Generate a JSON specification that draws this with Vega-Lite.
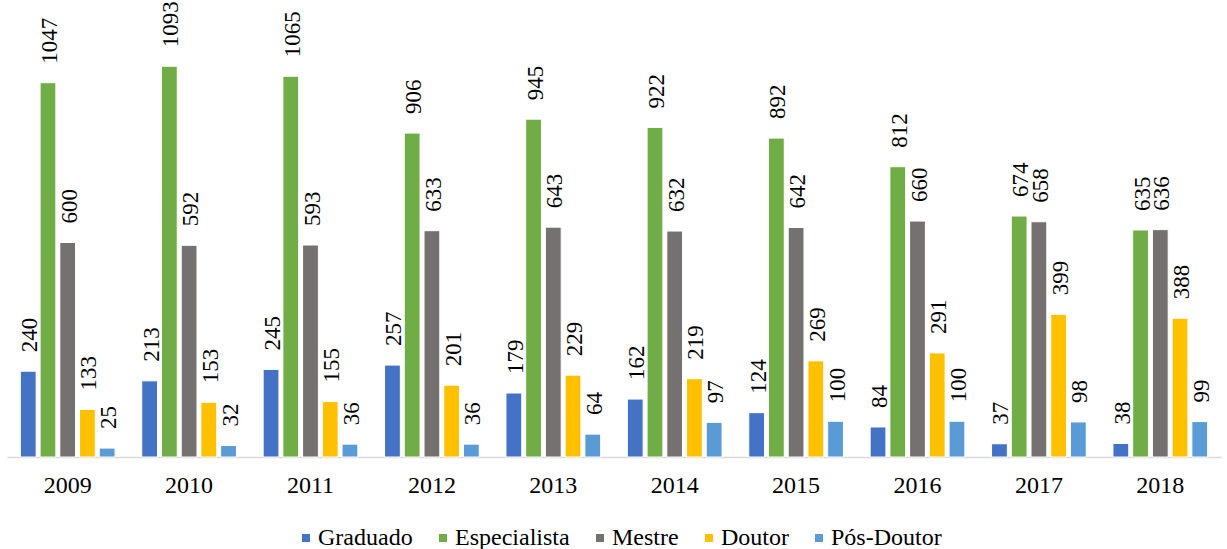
{
  "$schema": "https://vega.github.io/schema/vega-lite/v6.json",
  "width": 1214,
  "height": 429,
  "autosize": {"type": "none"},
  "padding": {"left": 7, "top": 28, "right": 6, "bottom": 92},
  "background": "white",
  "config": {"view": {"stroke": null}, "font": "Liberation Serif"},
  "data": {"values": [
    {"ano": "2009", "cat": "Graduado", "v": 240}, {"ano": "2009", "cat": "Especialista", "v": 1047}, {"ano": "2009", "cat": "Mestre", "v": 600}, {"ano": "2009", "cat": "Doutor", "v": 133}, {"ano": "2009", "cat": "Pós-Doutor", "v": 25},
    {"ano": "2010", "cat": "Graduado", "v": 213}, {"ano": "2010", "cat": "Especialista", "v": 1093}, {"ano": "2010", "cat": "Mestre", "v": 592}, {"ano": "2010", "cat": "Doutor", "v": 153}, {"ano": "2010", "cat": "Pós-Doutor", "v": 32},
    {"ano": "2011", "cat": "Graduado", "v": 245}, {"ano": "2011", "cat": "Especialista", "v": 1065}, {"ano": "2011", "cat": "Mestre", "v": 593}, {"ano": "2011", "cat": "Doutor", "v": 155}, {"ano": "2011", "cat": "Pós-Doutor", "v": 36},
    {"ano": "2012", "cat": "Graduado", "v": 257}, {"ano": "2012", "cat": "Especialista", "v": 906}, {"ano": "2012", "cat": "Mestre", "v": 633}, {"ano": "2012", "cat": "Doutor", "v": 201}, {"ano": "2012", "cat": "Pós-Doutor", "v": 36},
    {"ano": "2013", "cat": "Graduado", "v": 179}, {"ano": "2013", "cat": "Especialista", "v": 945}, {"ano": "2013", "cat": "Mestre", "v": 643}, {"ano": "2013", "cat": "Doutor", "v": 229}, {"ano": "2013", "cat": "Pós-Doutor", "v": 64},
    {"ano": "2014", "cat": "Graduado", "v": 162}, {"ano": "2014", "cat": "Especialista", "v": 922}, {"ano": "2014", "cat": "Mestre", "v": 632}, {"ano": "2014", "cat": "Doutor", "v": 219}, {"ano": "2014", "cat": "Pós-Doutor", "v": 97},
    {"ano": "2015", "cat": "Graduado", "v": 124}, {"ano": "2015", "cat": "Especialista", "v": 892}, {"ano": "2015", "cat": "Mestre", "v": 642}, {"ano": "2015", "cat": "Doutor", "v": 269}, {"ano": "2015", "cat": "Pós-Doutor", "v": 100},
    {"ano": "2016", "cat": "Graduado", "v": 84}, {"ano": "2016", "cat": "Especialista", "v": 812}, {"ano": "2016", "cat": "Mestre", "v": 660}, {"ano": "2016", "cat": "Doutor", "v": 291}, {"ano": "2016", "cat": "Pós-Doutor", "v": 100},
    {"ano": "2017", "cat": "Graduado", "v": 37}, {"ano": "2017", "cat": "Especialista", "v": 674}, {"ano": "2017", "cat": "Mestre", "v": 658}, {"ano": "2017", "cat": "Doutor", "v": 399}, {"ano": "2017", "cat": "Pós-Doutor", "v": 98},
    {"ano": "2018", "cat": "Graduado", "v": 38}, {"ano": "2018", "cat": "Especialista", "v": 635}, {"ano": "2018", "cat": "Mestre", "v": 636}, {"ano": "2018", "cat": "Doutor", "v": 388}, {"ano": "2018", "cat": "Pós-Doutor", "v": 99}
  ]},
  "encoding": {
    "x": {"field": "ano", "type": "nominal", "title": null,
      "scale": {"paddingInner": 0.22, "paddingOuter": 0.11},
      "axis": {"labelAngle": 0, "labelFont": "Liberation Serif", "labelFontSize": 24, "labelColor": "#000000", "labelPadding": 16, "ticks": false, "domainColor": "#D9D9D9", "domainWidth": 1.5, "grid": false}},
    "xOffset": {"field": "cat", "type": "nominal", "sort": ["Graduado", "Especialista", "Mestre", "Doutor", "Pós-Doutor"], "scale": {"paddingInner": 0.2}},
    "y": {"field": "v", "type": "quantitative", "scale": {"domain": [0, 1200]}, "axis": null}
  },
  "layer": [
    {
      "mark": {"type": "bar", "stroke": "white", "strokeWidth": 1},
      "encoding": {
        "color": {"field": "cat", "type": "nominal", "title": null,
          "scale": {"domain": ["Graduado", "Especialista", "Mestre", "Doutor", "Pós-Doutor"], "range": ["#4472C4", "#70AD47", "#767171", "#FFC000", "#5B9BD5"]},
          "legend": {"orient": "none", "legendX": 287, "legendY": 498, "direction": "horizontal", "symbolType": "square", "symbolSize": 64, "symbolStrokeWidth": 0, "labelFontSize": 24, "labelColor": "#000000", "labelFont": "Liberation Serif", "columnPadding": 18, "labelOffset": 0}}
      }
    },
    {
      "mark": {"type": "text", "angle": 270, "align": "left", "baseline": "middle", "dx": 19, "dy": 2, "font": "Liberation Serif", "fontSize": 23, "color": "#000000"},
      "encoding": {"text": {"field": "v", "type": "quantitative"}}
    }
  ]
}
